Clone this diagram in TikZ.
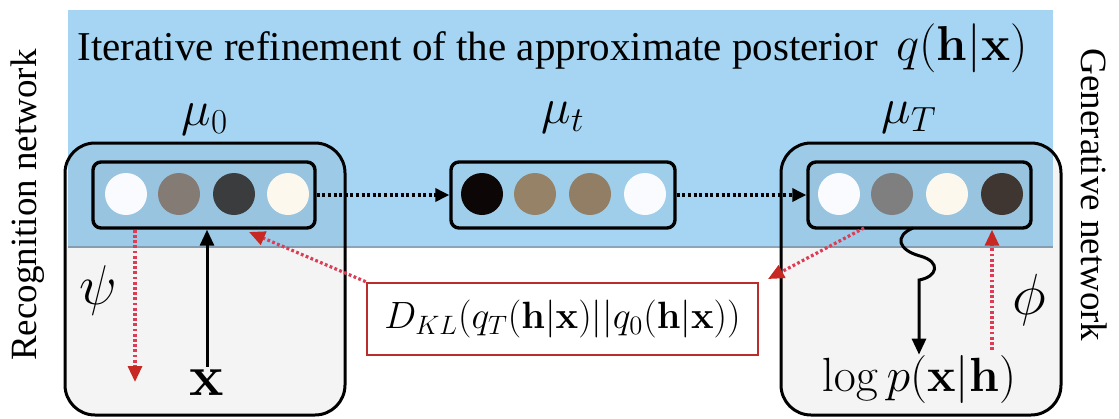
\documentclass[tikz,border=0pt]{standalone}
\usepackage{fix-cm}
\usepackage[no-math]{fontspec}
\setmainfont{LiberationSerif}[Extension=.ttf, UprightFont=*-Regular, BoldFont=*-Bold, ItalicFont=*-Italic, BoldItalicFont=*-BoldItalic]
\usetikzlibrary{arrows.meta}
\definecolor{skyb}{RGB}{165,213,242}
\definecolor{bandln}{RGB}{140,165,185}
\definecolor{redl}{RGB}{222,60,85}
\definecolor{redd}{RGB}{200,40,35}
\definecolor{klbord}{RGB}{185,45,45}
\definecolor{cwhite}{RGB}{250,251,255}
\definecolor{cgrayA}{RGB}{133,123,117}
\definecolor{cdarkA}{RGB}{58,60,62}
\definecolor{ccream}{RGB}{253,248,238}
\definecolor{cblack}{RGB}{12,6,6}
\definecolor{cbrown}{RGB}{150,130,103}
\definecolor{cgrayB}{RGB}{127,127,128}
\definecolor{cdarkB}{RGB}{63,54,49}
\begin{document}
\begin{tikzpicture}[x=0.5pt,y=-0.5pt,
  outerbox/.style={draw=black, line width=1.5pt, rounded corners=15pt, fill=black, fill opacity=0.045,
    minimum width=140pt, minimum height=136pt, inner sep=0pt},
  innerbox/.style={draw=black, line width=1.7pt, rounded corners=4pt, fill=black, fill opacity=0.03,
    minimum height=33pt, inner sep=0pt},
  unit/.style={circle, minimum size=21pt, inner sep=0pt},
  dotarrow/.style={line width=1.7pt, dash pattern=on 1.5pt off 1.3pt, -{Triangle[length=7pt,width=6.5pt]}},
  reddot/.style={draw=redl, line width=1.6pt, dash pattern=on 1.4pt off 1.2pt,
    -{Triangle[length=8pt,width=7pt,color=redd,fill=redd]}},
  solidarrow/.style={line width=1.5pt, -{Triangle[length=8pt,width=7pt]}},
  lbl/.style={inner sep=0pt}
]
\useasboundingbox (0,0) rectangle (1119,418);
% blue band
\fill[skyb] (68,10) rectangle (1053,247);
\draw[bandln, line width=1pt] (68,246.5) -- (1053,246.5);
% outer boxes
\node[outerbox] (boxL) at (205,279) {};
\node[outerbox] (boxR) at (921,279) {};
% inner boxes
\node[innerbox, minimum width=111pt] (inL) at (204,195) {};
\node[innerbox, minimum width=112pt] (inM) at (563,195) {};
\node[innerbox, minimum width=111.5pt] (inR) at (919.5,195) {};
% units
\node[unit, fill=cwhite] (l1) at (126,194) {};
\node[unit, fill=cgrayA] (l2) at (179,194) {};
\node[unit, fill=cdarkA] (l3) at (234,194) {};
\node[unit, fill=ccream] (l4) at (288,194) {};
\node[unit, fill=cblack] (m1) at (482,194) {};
\node[unit, fill=cbrown] (m2) at (535,194) {};
\node[unit, fill=cbrown!97!black] (m3) at (590,194) {};
\node[unit, fill=cwhite] (m4) at (645,194) {};
\node[unit, fill=cwhite] (r1) at (839,194) {};
\node[unit, fill=cgrayB] (r2) at (892,194) {};
\node[unit, fill=ccream] (r3) at (947,194) {};
\node[unit, fill=cdarkB] (r4) at (1002,194) {};
% title
\node[lbl, anchor=base west, font=\fontsize{20.5}{24}\selectfont] (title) at (77,60) {Iterative refinement of the approximate posterior};
\node[lbl, anchor=base west, font=\fontsize{24.5}{28}\selectfont] (qhx) at (896,60) {$q(\mathbf{h}|\mathbf{x})$};
% mu labels
\node[lbl, font=\fontsize{25}{30}\selectfont] (mu0) at (205,120) {$\mu_0$};
\node[lbl, font=\fontsize{25}{30}\selectfont] (mut) at (563,118) {$\mu_t$};
\node[lbl, font=\fontsize{25}{30}\selectfont] (muT) at (909,118) {$\mu_T$};
% dotted arrows between states
\draw[dotarrow] (inL.east) -- (inM.west);
\draw[dotarrow] (inM.east) -- (inR.west);
% recognition side
\node[lbl, anchor=base, font=\fontsize{29}{32}\selectfont] (xin) at (207,395) {$\mathbf{x}$};
\draw[solidarrow] ([yshift=1pt]xin.north) -- (xin.north |- inL.south);
\coordinate (psiend) at (135,382);
\draw[reddot] (inL.south -| psiend) -- (psiend);
\node[lbl, font=\fontsize{28}{32}\selectfont] (psi) at (98,290) {$\psi$};
% KL box
\node[draw=klbord, line width=1.3pt, fill=white, minimum width=195.5pt, minimum height=36pt, inner sep=0pt,
  font=\fontsize{19}{22}\selectfont] (kl) at (562.5,319) {$D_{KL}(q_T(\mathbf{h}|\mathbf{x})||q_0(\mathbf{h}|\mathbf{x}))$};
\coordinate (klLend) at (249,232);
\draw[reddot] (kl.north west) -- (klLend);
\coordinate (klRstart) at (864,228);
\coordinate (klRend) at (768,279);
\draw[reddot] (klRstart) -- (klRend);
% generative side
\node[lbl, anchor=base, font=\fontsize{24}{28}\selectfont] (logp) at (919,391) {$\log p(\mathbf{x}|\mathbf{h})$};
\coordinate (sqtop) at (913,228);
\draw[solidarrow] (sqtop) .. controls (894,236) and (898,250) .. (920,256)
   .. controls (942,262) and (937,277) .. (919,280) -- (logp.north);
\coordinate (phistart) at (992,350);
\draw[reddot] (phistart) -- (inR.south -| phistart);
\node[lbl, font=\fontsize{29}{32}\selectfont] (phi) at (1029,300) {$\phi$};
% side labels
\node[rotate=90, font=\fontsize{18.5}{22}\selectfont] (recog) at (28,205) {Recognition network};
\node[rotate=-90, font=\fontsize{18.5}{22}\selectfont] (gen) at (1094,195) {Generative network};
\end{tikzpicture}
\end{document}
